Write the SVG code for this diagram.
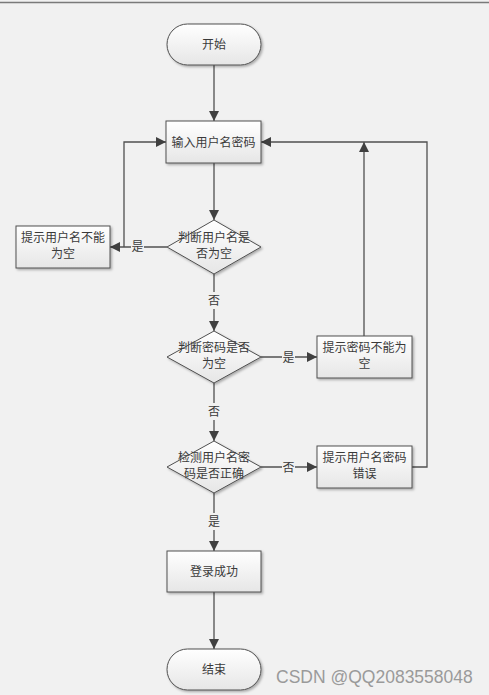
<svg xmlns="http://www.w3.org/2000/svg" width="489" height="695" viewBox="0 0 489 695">
<defs>
<linearGradient id="g" x1="0" y1="0" x2="0" y2="1">
<stop offset="0" stop-color="#ffffff"/>
<stop offset="1" stop-color="#e6e6e6"/>
</linearGradient>
<marker id="arr" viewBox="0 0 10 10" refX="10" refY="5" markerWidth="10" markerHeight="10" markerUnits="userSpaceOnUse" orient="auto">
<path d="M0,0 L10,5 L0,10 z" fill="#404040"/>
</marker>
<filter id="sh" x="-10%" y="-10%" width="130%" height="130%">
<feDropShadow dx="1.5" dy="1.5" stdDeviation="0.8" flood-color="#000" flood-opacity="0.3"/>
</filter>
</defs>
<style>
.shape{fill:url(#g);stroke:#505050;stroke-width:1;filter:url(#sh)}
.t{font-family:"Liberation Serif","Noto Sans CJK SC",serif;font-size:12px;fill:#3a3a3a;text-anchor:middle}
.c{fill:none;stroke:#505050;stroke-width:1.3}
.lb{fill:#f1f1f1}
.wm{font-family:"Liberation Sans","DejaVu Sans",sans-serif;font-size:17.5px;fill:#9a9a9a}
</style>
<rect x="0" y="0" width="489" height="695" fill="#f1f1f1"/>
<line x1="0" y1="2.5" x2="489" y2="2.5" stroke="#7a7a7a" stroke-width="1.5"/>

<g id="connectors">
<path class="c" d="M214,65 V121" marker-end="url(#arr)"/>
<path class="c" d="M214,163 V220" marker-end="url(#arr)"/>
<path class="c" d="M167,247 H110" marker-end="url(#arr)"/>
<path class="c" d="M124,247 V142 H166" marker-end="url(#arr)"/>
<path class="c" d="M214,274 V331" marker-end="url(#arr)"/>
<path class="c" d="M261,357 H317" marker-end="url(#arr)"/>
<path class="c" d="M364,336 V142" marker-end="url(#arr)"/>
<path class="c" d="M214,383 V441" marker-end="url(#arr)"/>
<path class="c" d="M261,467 H317" marker-end="url(#arr)"/>
<path class="c" d="M412,467 H427 V142 H261" marker-end="url(#arr)"/>
<path class="c" d="M214,493 V551" marker-end="url(#arr)"/>
<path class="c" d="M214,592 V649" marker-end="url(#arr)"/>
<rect class="lb" x="131" y="238" width="13" height="17"/>
<text class="t" x="137.5" y="251">是</text>
<rect class="lb" x="207" y="292" width="14" height="17"/>
<text class="t" x="214" y="305">否</text>
<rect class="lb" x="282" y="349" width="13" height="17"/>
<text class="t" x="288.5" y="362">是</text>
<rect class="lb" x="207" y="403" width="14" height="17"/>
<text class="t" x="214" y="416">否</text>
<rect class="lb" x="282" y="459" width="13" height="17"/>
<text class="t" x="288.5" y="472">否</text>
<rect class="lb" x="207" y="513" width="14" height="17"/>
<text class="t" x="214" y="526">是</text>
</g>

<g id="start">
<rect class="shape" x="167" y="24" width="94" height="41" rx="20.5" ry="20.5"/>
<text class="t" x="214" y="48.5">开始</text>
</g>
<g id="input">
<rect class="shape" x="166" y="121" width="95" height="42"/>
<text class="t" x="213.5" y="146.5">输入用户名密码</text>
</g>
<g id="check-username">
<polygon class="shape" points="214,220 261,247 214,274 167,247"/>
<text class="t" x="214" y="242">判断用户名是</text>
<text class="t" x="214" y="258">否为空</text>
</g>
<g id="username-empty">
<rect class="shape" x="16" y="226" width="94" height="42"/>
<text class="t" x="63" y="242">提示用户名不能</text>
<text class="t" x="63" y="258">为空</text>
</g>
<g id="check-password">
<polygon class="shape" points="214,331 261,357 214,383 167,357"/>
<text class="t" x="214" y="352">判断密码是否</text>
<text class="t" x="214" y="368">为空</text>
</g>
<g id="password-empty">
<rect class="shape" x="317" y="336" width="95" height="42"/>
<text class="t" x="364.5" y="352">提示密码不能为</text>
<text class="t" x="364.5" y="368">空</text>
</g>
<g id="verify">
<polygon class="shape" points="214,441 261,467 214,493 167,467"/>
<text class="t" x="214" y="462">检测用户名密</text>
<text class="t" x="214" y="478">码是否正确</text>
</g>
<g id="wrong">
<rect class="shape" x="317" y="446" width="95" height="42"/>
<text class="t" x="364.5" y="462">提示用户名密码</text>
<text class="t" x="364.5" y="478">错误</text>
</g>
<g id="success">
<rect class="shape" x="167" y="551" width="94" height="41"/>
<text class="t" x="214" y="575.5">登录成功</text>
</g>
<g id="end">
<rect class="shape" x="167" y="649" width="94" height="41" rx="20.5" ry="20.5"/>
<text class="t" x="214" y="673.5">结束</text>
</g>
<text class="wm" x="276" y="683">CSDN @QQ2083558048</text>
</svg>
